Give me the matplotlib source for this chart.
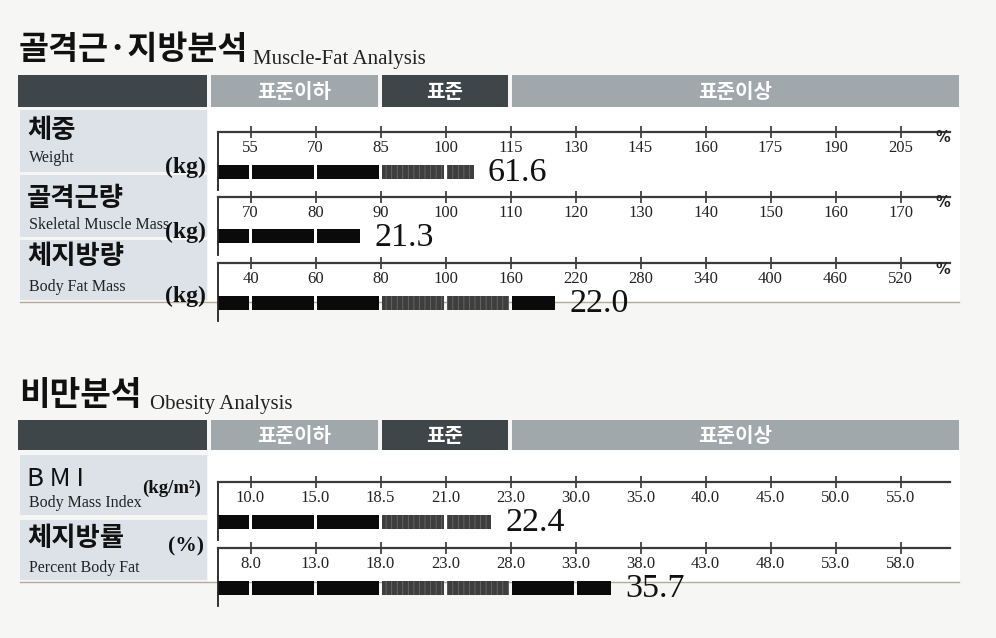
import numpy as np
import matplotlib
matplotlib.use("Agg")
import matplotlib.pyplot as plt
from matplotlib.patches import Rectangle

# ---------------- data ----------------
zone_labels = ["표준이하", "표준", "표준이상"]

mf_names_kr = ["체중", "골격근량", "체지방량"]
mf_names_en = ["Weight", "Skeletal Muscle Mass", "Body Fat Mass"]
mf_units = ["(kg)", "(kg)", "(kg)"]
weight_ticks = [55, 70, 85, 100, 115, 130, 145, 160, 175, 190, 205]
smm_ticks = [70, 80, 90, 100, 110, 120, 130, 140, 150, 160, 170]
bfm_ticks = [40, 60, 80, 100, 160, 220, 280, 340, 400, 460, 520]
mf_levels = [106.5, 86.8, 201.0]        # bar length on the % scale
mf_values = ["61.6", "21.3", "22.0"]

ob_names_kr = ["B M I", "체지방률"]
ob_names_en = ["Body Mass Index", "Percent Body Fat"]
ob_units = ["(kg/m²)", "(%)"]
bmi_ticks = [10.0, 15.0, 18.5, 21.0, 23.0, 30.0, 35.0, 40.0, 45.0, 50.0, 55.0]
pbf_ticks = [8.0, 13.0, 18.0, 23.0, 28.0, 33.0, 38.0, 43.0, 48.0, 53.0, 58.0]
ob_levels = [22.4, 35.7]
ob_values = ["22.4", "35.7"]

# ---------------- layout helpers ----------------
W, H = 996, 638
plt.rcParams['hatch.linewidth'] = 0.6
fig = plt.figure(figsize=(W / 100, H / 100), dpi=100, facecolor="#f6f6f4")

ov = fig.add_axes([0, 0, 1, 1], zorder=0)
ov.set_xlim(0, W)
ov.set_ylim(H, 0)
ov.axis("off")

KR = "Noto Sans CJK KR"
SERIF = "Liberation Serif"
DARK = "#3f4649"
LIGHT = "#a0a8ab"
BOX = "#dce2e8"

def rect(x0, y0, x1, y1, color, z=1):
    ov.add_patch(Rectangle((x0, y0), x1 - x0, y1 - y0, facecolor=color,
                           edgecolor="none", zorder=z))

# white work areas
rect(208, 107, 960, 302, "white")
rect(208, 450, 960, 582, "white")

def header_band(y0, y1):
    rect(18, y0, 207, y1, DARK, 2)
    rect(211, y0, 378, y1, LIGHT, 2)
    rect(382, y0, 508, y1, DARK, 2)
    rect(512, y0, 959, y1, LIGHT, 2)
    yc = (y0 + y1) / 2
    for (xa, xb), lab in zip([(211, 378), (382, 508), (512, 959)], zone_labels):
        ov.text((xa + xb) / 2, yc, lab, ha="center", va="center", color="white",
                fontsize=14.5, fontweight="bold", family=KR, zorder=3)

# section 1 titles
ov.text(19, 49, "골격근·지방분석", fontsize=23.5, fontweight="bold", family=KR,
        va="center", ha="left", color="#111111", zorder=3)
ov.text(253, 64, "Muscle-Fat Analysis", fontsize=15, family=SERIF,
        va="baseline", ha="left", color="#222222", zorder=3)
header_band(75, 107)

# section 2 titles
ov.text(19, 396, "비만분석", fontsize=24, fontweight="bold", family=KR,
        va="center", ha="left", color="#111111", zorder=3)
ov.text(150, 409, "Obesity Analysis", fontsize=15, family=SERIF,
        va="baseline", ha="left", color="#222222", zorder=3)
header_band(420, 450)

# label boxes
mf_boxes = [(110, 172), (175, 237), (240, 300)]
mf_kr_y = [131, 198, 256]
mf_en_y = [158, 225, 287]
mf_unit_y = [167, 232, 296]
for (y0, y1), kr, en, un, yk, ye, yu in zip(mf_boxes, mf_names_kr, mf_names_en,
                                            mf_units, mf_kr_y, mf_en_y, mf_unit_y):
    rect(20, y0, 207, y1, BOX, 2)
    ov.text(27, yk, kr, fontsize=19, fontweight="bold", family=KR, va="center",
            color="#111111", zorder=3)
    ov.text(29, ye, en, fontsize=11.5, family=SERIF, va="center",
            color="#222222", zorder=3)
    ov.text(206, yu, un, fontsize=17, fontweight="bold", family=SERIF,
            va="center", ha="right", color="#111111", zorder=4)
ov.plot([20, 959], [302, 302], color="#b3aa9c", lw=1.0, zorder=3)

ob_boxes = [(455, 515), (520, 580)]
ob_kr_y = [479, 538]
ob_en_y = [503, 568]
ob_unit_y = [488, 546]
ob_unit_x = [201, 204]
ob_unit_fs = [13.5, 15.5]
for (y0, y1), kr, en, un, yk, ye, yu, xu, fu in zip(ob_boxes, ob_names_kr,
                                                    ob_names_en, ob_units,
                                                    ob_kr_y, ob_en_y, ob_unit_y,
                                                    ob_unit_x, ob_unit_fs):
    rect(20, y0, 207, y1, BOX, 2)
    if kr.startswith("B"):
        ov.text(27, yk, kr, fontsize=18.5, family=KR, va="center",
                color="#111111", zorder=3)
    else:
        ov.text(27, yk, kr, fontsize=19, fontweight="bold", family=KR,
                va="center", color="#111111", zorder=3)
    ov.text(29, ye, en, fontsize=11.5, family=SERIF, va="center",
            color="#222222", zorder=3)
    ov.text(xu, yu, un, fontsize=fu, fontweight="bold", family=SERIF,
            va="center", ha="right", color="#111111", zorder=4)
ov.plot([20, 959], [582, 582], color="#b3aa9c", lw=1.0, zorder=3)

# ---------------- bar rows ----------------
X0, X1 = 218, 950
UNIT = 65.0
XMAX = (X1 - X0) / UNIT
ROW_H = 58
positions = np.arange(11) + 0.5
STD_LO, STD_HI = positions[2], positions[4]

def to_pos(v, ticks):
    t = np.asarray(ticks, float)
    if v < t[0]:
        return positions[0] - (t[0] - v) / (t[1] - t[0])
    if v > t[-1]:
        return positions[-1] + (v - t[-1]) / (t[-1] - t[-2])
    return float(np.interp(v, t, positions))

def bar_row(top, ticks, level, value, labels, pct):
    ax = fig.add_axes([X0 / W, 1 - (top + ROW_H) / H, (X1 - X0) / W, ROW_H / H],
                      zorder=5)
    ax.set_facecolor("none")
    ax.set_xlim(0, XMAX)
    ax.set_ylim(ROW_H, 0)
    for s in ["right", "bottom"]:
        ax.spines[s].set_visible(False)
    ax.spines["top"].set_color("#3a3a3a")
    ax.spines["top"].set_linewidth(1.6)
    ax.spines["left"].set_color("#222222")
    ax.spines["left"].set_linewidth(1.3)
    ax.set_yticks([])
    ax.xaxis.tick_top()
    ax.set_xticks(positions)
    ax.set_xticklabels([])
    ax.tick_params(axis="x", direction="inout", length=8, width=1.2,
                   color="#333333")
    for p, lab in zip(positions, labels):
        ax.text(p, 16, lab, ha="center", va="center", fontsize=12,
                family=SERIF, color="#222222")
    if pct:
        ax.text((943 - X0) / UNIT, 6, "%", ha="center", va="center",
                fontsize=10.5, fontweight="bold", family="DejaVu Sans",
                color="#222222")
    end = to_pos(level, ticks)
    bounds = [0.0] + list(positions) + [XMAX]
    gap = 1.6 / UNIT
    for a, b in zip(bounds[:-1], bounds[1:]):
        if a >= end:
            break
        left = a + gap if a > 0 else 0.0
        right = min(b - gap, end)
        if right <= left:
            continue
        std = STD_LO <= a < STD_HI
        if std:
            ax.barh(39.5, right - left, left=left, height=14, color="#3e3e3e",
                    edgecolor="#6a6a6a", hatch="|||", linewidth=0)
        else:
            ax.barh(39.5, right - left, left=left, height=14, color="#0a0a0a",
                    linewidth=0)
    ax.text(end + 0.22, 40.5, value, ha="left", va="center", fontsize=24.5,
            family=SERIF, color="#111111")
    return ax

mf_tops = [132, 197, 263]
mf_ticks = [weight_ticks, smm_ticks, bfm_ticks]
for top, tk, lv, val in zip(mf_tops, mf_ticks, mf_levels, mf_values):
    bar_row(top, tk, lv, val, [str(t) for t in tk], True)

ob_tops = [482, 548]
ob_ticks = [bmi_ticks, pbf_ticks]
for top, tk, lv, val in zip(ob_tops, ob_ticks, ob_levels, ob_values):
    bar_row(top, tk, lv, val, [f"{t:.1f}" for t in tk], False)

fig.savefig("out.png", dpi=100, facecolor=fig.get_facecolor())
